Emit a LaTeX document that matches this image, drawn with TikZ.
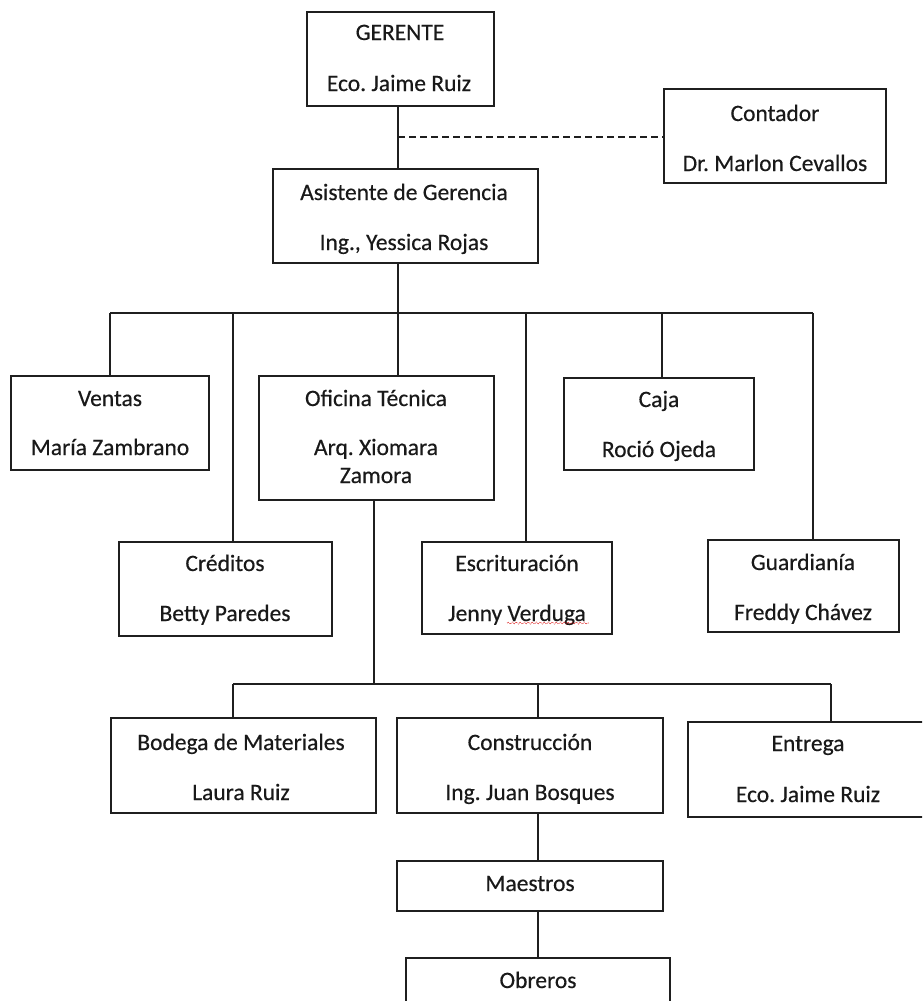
\documentclass[tikz,border=0pt]{standalone}
\usepackage{fontspec}
\setmainfont{Carlito}[FakeBold=0.4]
\frenchspacing
\usetikzlibrary{decorations.pathmorphing}
\begin{document}
\begin{tikzpicture}[x=1pt,y=-1pt,
  box/.style={draw=black!88, line width=1.6pt, inner sep=0pt, outer sep=0pt},
  txt/.style={anchor=base, inner sep=0pt, font=\fontsize{23.5}{28}\selectfont, text=black!90},
  link/.style={draw=black!88, line width=1.6pt},
  dotlink/.style={link, dash pattern=on 7pt off 4pt},
]
\useasboundingbox[fill=white] (0,0) rectangle (922,1001);
\clip (0,0) rectangle (922,1001);

% ---- boxes ----
\node[box, minimum width=187pt, minimum height=94pt] (ger)   at (400.5,59)  {};
\node[box, minimum width=222pt, minimum height=94pt] (cont)  at (775,136)   {};
\node[box, minimum width=265pt, minimum height=94pt] (asis)  at (405.5,216) {};
\node[box, minimum width=198pt, minimum height=94pt] (vent)  at (110,423)   {};
\node[box, minimum width=235pt, minimum height=124pt] (ofic) at (376.5,438) {};
\node[box, minimum width=190pt, minimum height=92pt] (caja)  at (659,424)   {};
\node[box, minimum width=213pt, minimum height=94pt] (cred)  at (225.5,589) {};
\node[box, minimum width=190pt, minimum height=92pt] (escr)  at (517,588)   {};
\node[box, minimum width=191pt, minimum height=92pt] (guard) at (803.5,586) {};
\node[box, minimum width=265pt, minimum height=95pt] (bod)   at (243.5,765.5) {};
\node[box, minimum width=266pt, minimum height=95pt] (cons)  at (530,765.5) {};
\node[box, minimum width=240pt, minimum height=95pt] (entr)  at (808,769.5) {};
\node[box, minimum width=266pt, minimum height=50pt] (maes)  at (530,886)   {};
\node[box, minimum width=264pt, minimum height=56pt] (obr)   at (538,986)   {};

% ---- texts ----
\node[txt] (t-ger1)  at (400,40)  {GERENTE};
\node[txt] (t-ger2)  at (399,91)  {Eco. Jaime Ruiz};
\node[txt] (t-cont1) at (775,121) {Contador};
\node[txt] (t-cont2) at (775,171) {Dr. Marlon Cevallos};
\node[txt] (t-asis1) at (404,200) {Asistente de Gerencia};
\node[txt] (t-asis2) at (404,250) {Ing., Yessica Rojas};
\node[txt] (t-vent1) at (110,406) {Ventas};
\node[txt] (t-vent2) at (110,455) {María Zambrano};
\node[txt] (t-ofic1) at (376,406) {Oficina Técnica};
\node[txt] (t-ofic2) at (376,455) {Arq. Xiomara};
\node[txt] (t-ofic3) at (376,483) {Zamora};
\node[txt] (t-caja1) at (659,407) {Caja};
\node[txt] (t-caja2) at (659,457) {Roció Ojeda};
\node[txt] (t-cred1) at (225,571) {Créditos};
\node[txt] (t-cred2) at (225,621) {Betty Paredes};
\node[txt] (t-escr1) at (517,571) {Escrituración};
\node[txt] (t-escr2) at (517,621) {Jenny Verduga};
\node[txt] (t-guar1) at (803,570) {Guardianía};
\node[txt] (t-guar2) at (803,620) {Freddy Chávez};
\node[txt] (t-bod1)  at (241,750) {Bodega de Materiales};
\node[txt] (t-bod2)  at (241,800) {Laura Ruiz};
\node[txt] (t-cons1) at (530,750) {Construcción};
\node[txt] (t-cons2) at (530,800) {Ing. Juan Bosques};
\node[txt] (t-entr1) at (808,751) {Entrega};
\node[txt] (t-entr2) at (808,802) {Eco. Jaime Ruiz};
\node[txt] (t-maes)  at (530,891) {Maestros};
\node[txt] (t-obr)   at (538,988) {Obreros};

% spelling mark under the surname
\draw[red!85!black, line width=0.7pt, densely dotted,
      decorate, decoration={snake, amplitude=1pt, segment length=4pt}]
  (507,623) -- (589,623);

% ---- connection points ----
\coordinate (spine) at (398,137);
\coordinate (dA1) at (110,313);
\coordinate (dA2) at (233,313);
\coordinate (dA3) at (398,313);
\coordinate (dA4) at (526,313);
\coordinate (dA5) at (662,313);
\coordinate (dA6) at (813,313);
\coordinate (busB) at (374,684);
\coordinate (dB1) at (233,684);
\coordinate (dB2) at (538,684);
\coordinate (dB3) at (831,684);

% ---- connectors ----
\draw[link] (ger.south -| spine) -- (asis.north -| spine);
\draw[dotlink] (spine) -- (spine -| cont.west);
\draw[link] (asis.south -| dA3) -- (dA3);
\draw[link] (dA1) -- (dA6);
\draw[link] (dA1) -- (dA1 |- vent.north);
\draw[link] (dA2) -- (dA2 |- cred.north);
\draw[link] (dA3) -- (dA3 |- ofic.north);
\draw[link] (dA4) -- (dA4 |- escr.north);
\draw[link] (dA5) -- (dA5 |- caja.north);
\draw[link] (dA6) -- (dA6 |- guard.north);

\draw[link] (ofic.south -| busB) -- (busB);
\draw[link] (dB1) -- (dB3);
\draw[link] (dB1) -- (dB1 |- bod.north);
\draw[link] (dB2) -- (dB2 |- cons.north);
\draw[link] (dB3) -- (dB3 |- entr.north);
\draw[link] (cons.south -| dB2) -- (maes.north -| dB2);
\draw[link] (maes.south -| dB2) -- (obr.north -| dB2);
\end{tikzpicture}
\end{document}
